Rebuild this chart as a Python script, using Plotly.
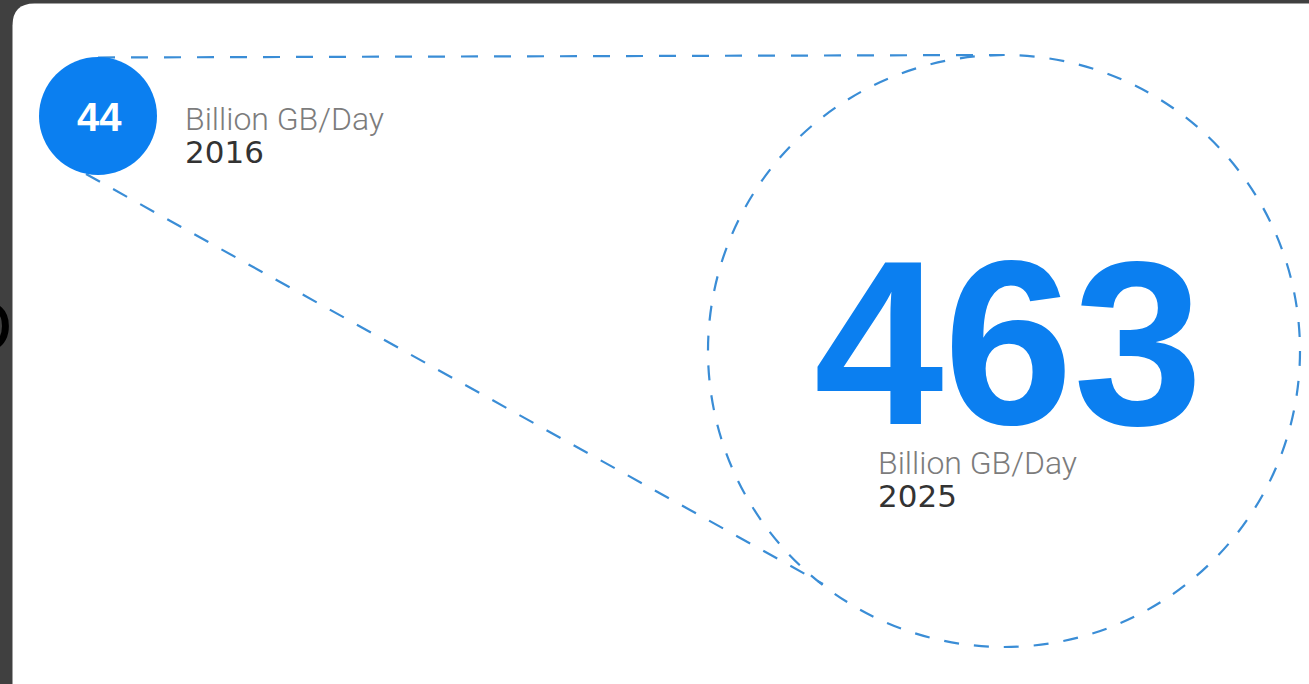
import plotly.graph_objects as go

# ---- data ----
years = ["2016", "2025"]
values = [44, 463]
unit = "Billion GB/Day"

# ---- layout geometry (pixels) ----
W, H = 1309, 684
BG = "#404040"
BLUE = "#0b7ff0"
DASH_BLUE = "#3a8dd6"
small = dict(cx=98, cy=116, r=59)
big = dict(cx=1004, cy=351, r=296)

fig = go.Figure()
fig.add_trace(go.Scatter(x=[0, W], y=[0, H], mode="markers", marker=dict(opacity=0), hoverinfo="skip", showlegend=False))

shapes = []
# white card with rounded corners
r = 22
x0, y0, x1, y1 = 12.5, 3.5, W + 30, H + 30
shapes.append(dict(type="path", xref="x", yref="y",
                   path=f"M {x0+r},{y0} L {x1},{y0} L {x1},{y1} L {x0},{y1} L {x0},{y0+r} Q {x0},{y0} {x0+r},{y0} Z",
                   fillcolor="white", line=dict(width=0), layer="below"))
# big dashed circle
shapes.append(dict(type="circle", xref="x", yref="y",
                   x0=big["cx"] - big["r"], x1=big["cx"] + big["r"],
                   y0=big["cy"] - big["r"], y1=big["cy"] + big["r"],
                   line=dict(color=DASH_BLUE, width=2.2, dash="15px,15px"), fillcolor="rgba(0,0,0,0)"))
# connector lines
shapes.append(dict(type="line", xref="x", yref="y",
                   x0=small["cx"], y0=small["cy"] - small["r"] + 0.5, x1=big["cx"], y1=big["cy"] - big["r"],
                   line=dict(color=DASH_BLUE, width=2.2, dash="17px,16px")))
shapes.append(dict(type="line", xref="x", yref="y",
                   x0=86, y0=174, x1=823, y1=584,
                   line=dict(color=DASH_BLUE, width=2.2, dash="16px,15px")))
# small filled circle
shapes.append(dict(type="circle", xref="x", yref="y",
                   x0=small["cx"] - small["r"], x1=small["cx"] + small["r"],
                   y0=small["cy"] - small["r"], y1=small["cy"] + small["r"],
                   fillcolor=BLUE, line=dict(width=0)))


def label(year):
    return (f'<span style="font-family:Roboto, Liberation Sans;font-weight:300;color:#7c7c7c;font-size:32px">{unit}</span>'
            f'<br><span style="font-family:DejaVu Sans, Liberation Sans;color:#333333;font-size:31px">{year}</span>')


annotations = [
    # partial glyph behind card at left edge
    dict(x=14, y=326, xref="x", yref="y", text="D", showarrow=False, xanchor="right", yanchor="middle",
         font=dict(family="Liberation Sans, Arial", size=74, color="#000000")),
    dict(x=small["cx"] + 1, y=small["cy"] + 1, xref="x", yref="y", text=str(values[0]), showarrow=False,
         font=dict(family="Liberation Sans, Arial", size=40, color="white", weight="bold")),
    dict(x=183, y=135, xref="x", yref="y", text=label(years[0]), showarrow=False, xanchor="left", yanchor="middle",
         align="left", font=dict(family="Roboto, Liberation Sans", size=25, color="#7c7c7c")),
    dict(x=1008, y=343, xref="x", yref="y", text=str(values[1]), showarrow=False, xanchor="center", yanchor="middle",
         font=dict(family="Liberation Sans, Arial", size=233, color=BLUE, weight="bold")),
    dict(x=876, y=479, xref="x", yref="y", text=label(years[1]), showarrow=False, xanchor="left", yanchor="middle",
         align="left", font=dict(family="Roboto, Liberation Sans", size=25, color="#7c7c7c")),
]

fig.update_layout(
    width=W, height=H, autosize=False,
    margin=dict(l=0, r=0, t=0, b=0, pad=0),
    paper_bgcolor=BG, plot_bgcolor=BG,
    xaxis=dict(range=[0, W], visible=False, fixedrange=True),
    yaxis=dict(range=[H, 0], visible=False, fixedrange=True),
    shapes=shapes, annotations=annotations, showlegend=False,
)

fig.write_html("out.html", config={"displayModeBar": False, "staticPlot": True},
               post_script="document.body.style.margin='0';document.body.style.overflow='hidden';document.body.style.background='#404040';")
